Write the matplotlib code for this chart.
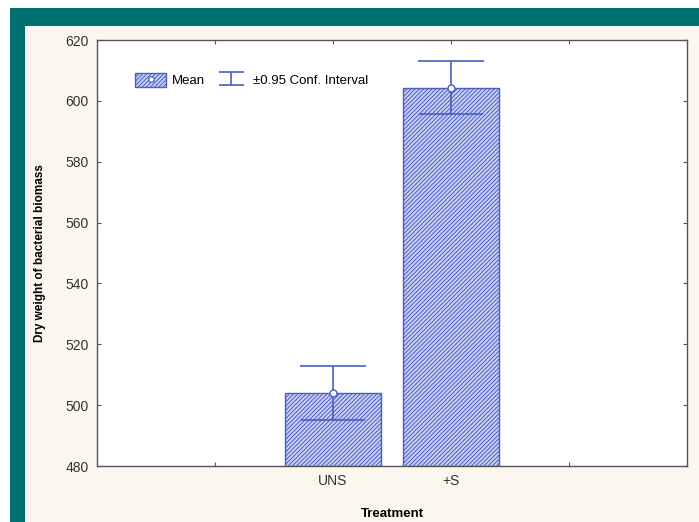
import numpy as np
import matplotlib
matplotlib.use('Agg')
import matplotlib.pyplot as plt
from matplotlib.patches import Rectangle, Patch
from matplotlib.lines import Line2D

# data
groups = ['UNS', '+S']
group_pos = [2, 3]
means = [504.0, 604.3]
ci_low = [495.0, 595.8]
ci_high = [513.0, 613.0]
y_ticks = [480, 500, 520, 540, 560, 580, 600, 620]

blue = '#4a5ec4'
fill = '#c9cff2'
teal = '#006f70'
cream = '#fbf7ee'

plt.rcParams['font.family'] = ['Liberation Sans Narrow', 'Liberation Sans', 'DejaVu Sans']
plt.rcParams['hatch.linewidth'] = 0.7

fig = plt.figure(figsize=(6.99, 5.22), dpi=100, facecolor='white')
W, H = 699.0, 522.0
# teal frame + cream panel
fig.patches.append(Rectangle((10 / W, 0), 1, (H - 8) / H, transform=fig.transFigure,
                             facecolor=teal, edgecolor='none', zorder=-2))
fig.patches.append(Rectangle((25 / W, 0), 1, (H - 26) / H, transform=fig.transFigure,
                             facecolor=cream, edgecolor='none', zorder=-1))

ax = fig.add_axes([97 / W, (H - 466) / H, 590 / W, 426 / H])
ax.set_facecolor('white')

ax.bar(group_pos, np.array(means) - 480, bottom=480, width=0.81,
       facecolor=fill, edgecolor=blue, hatch='////////', linewidth=1.0, zorder=2)

# confidence interval whiskers
ax.vlines(group_pos, ci_low, ci_high, color=blue, lw=1.2, zorder=3)
ax.hlines(ci_low, np.array(group_pos) - 0.27, np.array(group_pos) + 0.27, color=blue, lw=1.2, zorder=3)
ax.hlines(ci_high, np.array(group_pos) - 0.28, np.array(group_pos) + 0.28, color=blue, lw=1.2, zorder=3)
ax.plot(group_pos, means, 'o', ms=5, mfc='white', mec=blue, mew=1.0, zorder=4)

ax.set_xlim(0, 5)
ax.set_ylim(480, 620)
ax.set_xticks([1, 2, 3, 4])
ax.set_xticklabels(['', groups[0], groups[1], ''])
ax.set_yticks(y_ticks)
ax.tick_params(direction='in', length=3, width=0.8, colors='#555555',
               labelcolor='#333333', labelsize=10, top=True, right=True, pad=6)
for s in ax.spines.values():
    s.set_color('#555555')
    s.set_linewidth(1.0)

ax.set_xlabel('Treatment', fontsize=9.5, fontweight='bold', family=['Liberation Sans', 'DejaVu Sans'],
              labelpad=14)
ax.set_ylabel('Dry weight of bacterial biomass', fontsize=8.5, fontweight='bold',
              family=['Liberation Sans', 'DejaVu Sans'], labelpad=14)

# legend
mean_patch = Patch(facecolor=fill, edgecolor=blue, hatch='////////', linewidth=1.0)
mean_dot = Line2D([], [], ls='none', marker='o', ms=4, mfc='white', mec=blue, mew=0.9)
ci_handle = ax.errorbar([np.nan], [np.nan], yerr=[1], fmt='none', ecolor=blue,
                        capsize=9, elinewidth=1.2, capthick=1.2)
ax.legend([(mean_patch, mean_dot), ci_handle], ['Mean', '±0.95 Conf. Interval'],
          loc='upper left', bbox_to_anchor=(0.045, 0.95), ncol=2, frameon=False,
          fontsize=9.5, handlelength=2.3, handleheight=1.2, columnspacing=0.8,
          handletextpad=0.5)

fig.savefig('out.png', dpi=100)
